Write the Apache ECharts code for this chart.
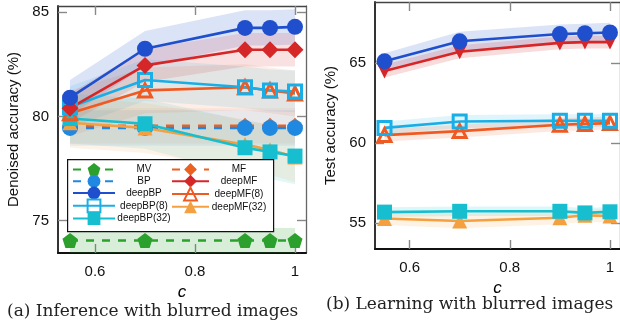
<!DOCTYPE html>
<html><head><meta charset="utf-8">
<script src="https://cdn.jsdelivr.net/npm/echarts@6/dist/echarts.min.js"></script>
<style>html,body{margin:0;padding:0;background:#fff}#c{width:620px;height:321px}</style>
</head><body><div id="c"></div>
<script>
// ---- data ----
const cVals = [0.55, 0.7, 0.9, 0.95, 1.0];
const xTicks = [0.6, 0.8, 1.0];
const yTicksA = [75, 80, 85];
const yTicksB = [55, 60, 65];
// (a) Inference with blurred images : denoised accuracy (%)
const MV_a       = [74.05, 74.05, 74.05, 74.05, 74.05];
const BP_a       = [79.45, 79.45, 79.45, 79.45, 79.45];
const MF_a       = [79.55, 79.55, 79.55, 79.55, 79.55];
const deepBP_a   = [80.9, 83.25, 84.25, 84.25, 84.3];
const deepMF_a   = [80.4, 82.45, 83.2, 83.2, 83.2];
const deepBP8_a  = [80.45, 81.75, 81.4, 81.25, 81.2];
const deepMF8_a  = [80.15, 81.25, 81.4, 81.25, 81.1];
const deepBP32_a = [79.9, 79.65, 78.5, 78.3, 78.1];
const deepMF32_a = [79.7, 79.45, 78.65, 78.4, 78.05];
// std bands (a)
const MV_a_sd       = [0.6, 0.6, 0.6, 0.6, 0.6];
const BP_a_sd       = [0.85, 0.85, 0.85, 0.85, 0.85];
const MF_a_sd       = [0.85, 0.85, 0.85, 0.85, 0.85];
const deepBP_a_sd   = [0.85, 0.85, 0.85, 0.85, 0.85];
const deepMF_a_sd   = [0.7, 0.8, 0.8, 0.8, 0.8];
const deepBP8_a_sd  = [1.0, 1.0, 1.0, 1.0, 1.0];
const deepMF8_a_sd  = [1.1, 1.1, 1.1, 1.1, 1.1];
const deepBP32_a_sd = [1.2, 1.2, 1.3, 1.3, 1.35];
const deepMF32_a_sd = [1.2, 1.2, 1.2, 1.2, 1.2];
// (b) Learning with blurred images : test accuracy (%)
const deepBP_b   = [65.1, 66.35, 66.8, 66.85, 66.9];
const deepMF_b   = [64.5, 65.7, 66.25, 66.3, 66.3];
const deepBP8_b  = [60.95, 61.35, 61.4, 61.4, 61.4];
const deepMF8_b  = [60.5, 60.75, 61.15, 61.2, 61.25];
const deepBP32_b = [55.7, 55.75, 55.75, 55.65, 55.72];
const deepMF32_b = [55.3, 55.15, 55.35, 55.5, 55.45];
const deepBP_b_sd   = [0.5, 0.6, 0.6, 0.6, 0.6];
const deepMF_b_sd   = [0.4, 0.4, 0.4, 0.4, 0.4];
const deepBP8_b_sd  = [0.4, 0.4, 0.4, 0.4, 0.4];
const deepMF8_b_sd  = [0.4, 0.4, 0.4, 0.4, 0.4];
const deepBP32_b_sd = [0.3, 0.3, 0.3, 0.3, 0.3];
const deepMF32_b_sd = [0.4, 0.45, 0.4, 0.4, 0.4];

// ---- styles ----
const COL = {
  'MV': '#2ca02c', 'BP': '#1f88e0', 'deepBP': '#1f4fcc', 'deepBP(8)': '#1aaee6', 'deepBP(32)': '#17becf',
  'MF': '#ec6020', 'deepMF': '#d62728', 'deepMF(8)': '#ef5a22', 'deepMF(32)': '#f5a040'
};
const PENT = 'path://M0,-10 L9.51,-3.09 L5.88,8.09 L-5.88,8.09 L-9.51,-3.09 Z';
const DIAM = 'path://M0,-10 L7,0 L0,10 L-7,0 Z';
const STY = {
  'MV': {symbol: PENT, size: 15, dash: true},
  'BP': {symbol: 'circle', size: 16, dash: true},
  'MF': {symbol: DIAM, size: 16, dash: true},
  'deepBP': {symbol: 'circle', size: 16},
  'deepMF': {symbol: DIAM, size: 17},
  'deepBP(8)': {symbol: 'rect', size: 13, hollow: true},
  'deepMF(8)': {symbol: 'triangle', size: 13, hollow: true},
  'deepBP(32)': {symbol: 'rect', size: 15},
  'deepMF(32)': {symbol: 'triangle', size: 15}
};

const series = [];
function addBand(name, vals, sd, gi, op){
  const lo = vals.map((v,i)=>v - sd[i]);
  const hi = vals.map((v,i)=>v + sd[i]);
  series.push({
    type:'custom', name:'band'+gi+name, xAxisIndex: gi, yAxisIndex: gi, silent:true, z:1,
    data: cVals.map((c,i)=>[c, lo[i], hi[i]]),
    encode:{x:0, y:[1,2]},
    renderItem: function(params, api){
      if (params.dataIndex !== 0) return null;
      const pts = [];
      for (let i=0;i<cVals.length;i++) pts.push(api.coord([cVals[i], hi[i]]));
      for (let i=cVals.length-1;i>=0;i--) pts.push(api.coord([cVals[i], lo[i]]));
      return {type:'polygon', shape:{points: pts}, style:{fill: COL[name], opacity: op}};
    }
  });
}
function addLine(name, vals, gi, opts){
  const s = STY[name]; const c = COL[name];
  const o = Object.assign({}, s, opts||{});
  series.push({
    type:'line', name: name, xAxisIndex: gi, yAxisIndex: gi, data: cVals.map((x,i)=>[x, vals[i]]),
    symbol: o.symbol, symbolSize: o.size, symbolRotate: o.rotate || 0, z: 3,
    lineStyle: {color: c, width: 2.6, type: o.dash ? [8, 8] : 'solid'},
    itemStyle: o.hollow ? {color: 'rgba(255,255,255,0)', borderColor: c, borderWidth: 3} : {color: c},
    emphasis: {disabled: true}
  });
}
// bands (a)
addBand('MV', MV_a, MV_a_sd, 0, 0.18);
addBand('BP', BP_a, BP_a_sd, 0, 0.1);
addBand('MF', MF_a, MF_a_sd, 0, 0.08);
addBand('deepBP', deepBP_a, deepBP_a_sd, 0, 0.16);
addBand('deepMF', deepMF_a, deepMF_a_sd, 0, 0.14);
addBand('deepBP(8)', deepBP8_a, deepBP8_a_sd, 0, 0.12);
addBand('deepMF(8)', deepMF8_a, deepMF8_a_sd, 0, 0.1);
addBand('deepBP(32)', deepBP32_a, deepBP32_a_sd, 0, 0.12);
addBand('deepMF(32)', deepMF32_a, deepMF32_a_sd, 0, 0.12);
// bands (b)
addBand('deepBP', deepBP_b, deepBP_b_sd, 1, 0.16);
addBand('deepMF', deepMF_b, deepMF_b_sd, 1, 0.16);
addBand('deepBP(8)', deepBP8_b, deepBP8_b_sd, 1, 0.14);
addBand('deepMF(8)', deepMF8_b, deepMF8_b_sd, 1, 0.14);
addBand('deepBP(32)', deepBP32_b, deepBP32_b_sd, 1, 0.14);
addBand('deepMF(32)', deepMF32_b, deepMF32_b_sd, 1, 0.14);
// lines (a)
addLine('MV', MV_a, 0);
addLine('MF', MF_a, 0);
addLine('BP', BP_a, 0);
addLine('deepMF(32)', deepMF32_a, 0);
addLine('deepBP(32)', deepBP32_a, 0);
addLine('deepMF(8)', deepMF8_a, 0);
addLine('deepBP(8)', deepBP8_a, 0);
addLine('deepMF', deepMF_a, 0);
addLine('deepBP', deepBP_a, 0);
// lines (b)
addLine('deepMF(32)', deepMF32_b, 1);
addLine('deepBP(32)', deepBP32_b, 1);
addLine('deepMF(8)', deepMF8_b, 1);
addLine('deepBP(8)', deepBP8_b, 1);
addLine('deepMF', deepMF_b, 1, {symbol:'triangle', rotate:180, size:15});
addLine('deepBP', deepBP_b, 1);

const FONT = 'Liberation Sans';
function xAx(gi, min, max, top){
  return {type:'value', gridIndex: gi, min: min, max: max, position: top ? 'top' : 'bottom',
    name: top ? '' : 'c', nameLocation:'middle', nameGap: 27,
    nameTextStyle:{fontFamily: FONT, fontStyle:'italic', fontSize:17, color:'#000'},
    axisLine:{show:true, onZero:false, lineStyle:{color: top ? '#444' : '#111', width: top?1.3:2}},
    axisTick:{show:true, inside:true, length:9, customValues: xTicks, lineStyle:{color:'#888', width:1.4}},
    axisLabel:{show: !top, customValues: xTicks, margin: 11, fontFamily: FONT, fontSize:15, color:'#111',
      formatter: v => (Math.abs(v-1)<1e-9 ? '1' : v.toFixed(1))},
    splitLine:{show:false}};
}
function yAx(gi, min, max, ticks, right, name){
  return {type:'value', gridIndex: gi, min: min, max: max, position: right ? 'right':'left',
    name: right ? '' : name, nameLocation:'middle', nameGap: right?0: 37,
    nameTextStyle:{fontFamily: FONT, fontSize:15, color:'#111'},
    axisLine:{show:true, onZero:false, lineStyle:{color: right ? '#666' : '#333', width: right?1.3:2}},
    axisTick:{show:true, inside:true, length:9, customValues: ticks, lineStyle:{color:'#888', width:1.4}},
    axisLabel:{show: !right, customValues: ticks, margin: 9, fontFamily: FONT, fontSize:15, color:'#111'},
    splitLine:{show:false}};
}
function legendFmt(w){
  return {formatter: n => '{t|' + n + '}',
    textStyle:{fontFamily: FONT, fontSize:10, color:'#111',
      rich:{t:{width:w, align:'center', fontFamily: FONT, fontSize:10, color:'#111'}}}};
}

const chart = echarts.init(document.getElementById('c'), null, {renderer:'canvas'});
chart.setOption({
  animation:false,
  backgroundColor:'#fff',
  grid:[
    {left:58, top:6, width:248, height:247},
    {left:375, top:2, width:247, height:247}
  ],
  xAxis:[xAx(0, 0.526, 1.022, false), xAx(1, 0.531, 1.02, false), xAx(0, 0.526, 1.022, true), xAx(1, 0.531, 1.02, true)],
  yAxis:[yAx(0, 73.45, 85.3, yTicksA, false, 'Denoised accuracy (%)'),
         yAx(1, 53.4, 68.8, yTicksB, false, 'Test accuracy (%)'),
         yAx(0, 73.45, 85.3, yTicksA, true), yAx(1, 53.4, 68.8, yTicksB, true)],
  legend:[
    Object.assign({orient:'vertical', left:72, top:163, itemWidth:42, itemHeight:16, itemGap:-1, z:20, padding:0,
     data:['MV','BP','deepBP','deepBP(8)','deepBP(32)'], selectedMode:false}, legendFmt(48)),
    Object.assign({orient:'vertical', left:171, top:163, itemWidth:37, itemHeight:16, itemGap:-1, z:20, padding:0,
     data:['MF','deepMF','deepMF(8)','deepMF(32)'], selectedMode:false}, legendFmt(50))
  ],
  graphic:[
    {type:'rect', left:67, top:159, shape:{width:206, height:72}, z:10,
     style:{fill:'#fff', stroke:'#111', lineWidth:1.2}},
    {type:'text', left:7, top:303, z:10,
     style:{text:'(a) Inference with blurred images', font:'17px "DejaVu Serif"', fill:'#222'}},
    {type:'text', left:326, top:296, z:10,
     style:{text:'(b) Learning with blurred images', font:'17px "DejaVu Serif"', fill:'#222'}}
  ],
  series: series
});
</script></body></html>
